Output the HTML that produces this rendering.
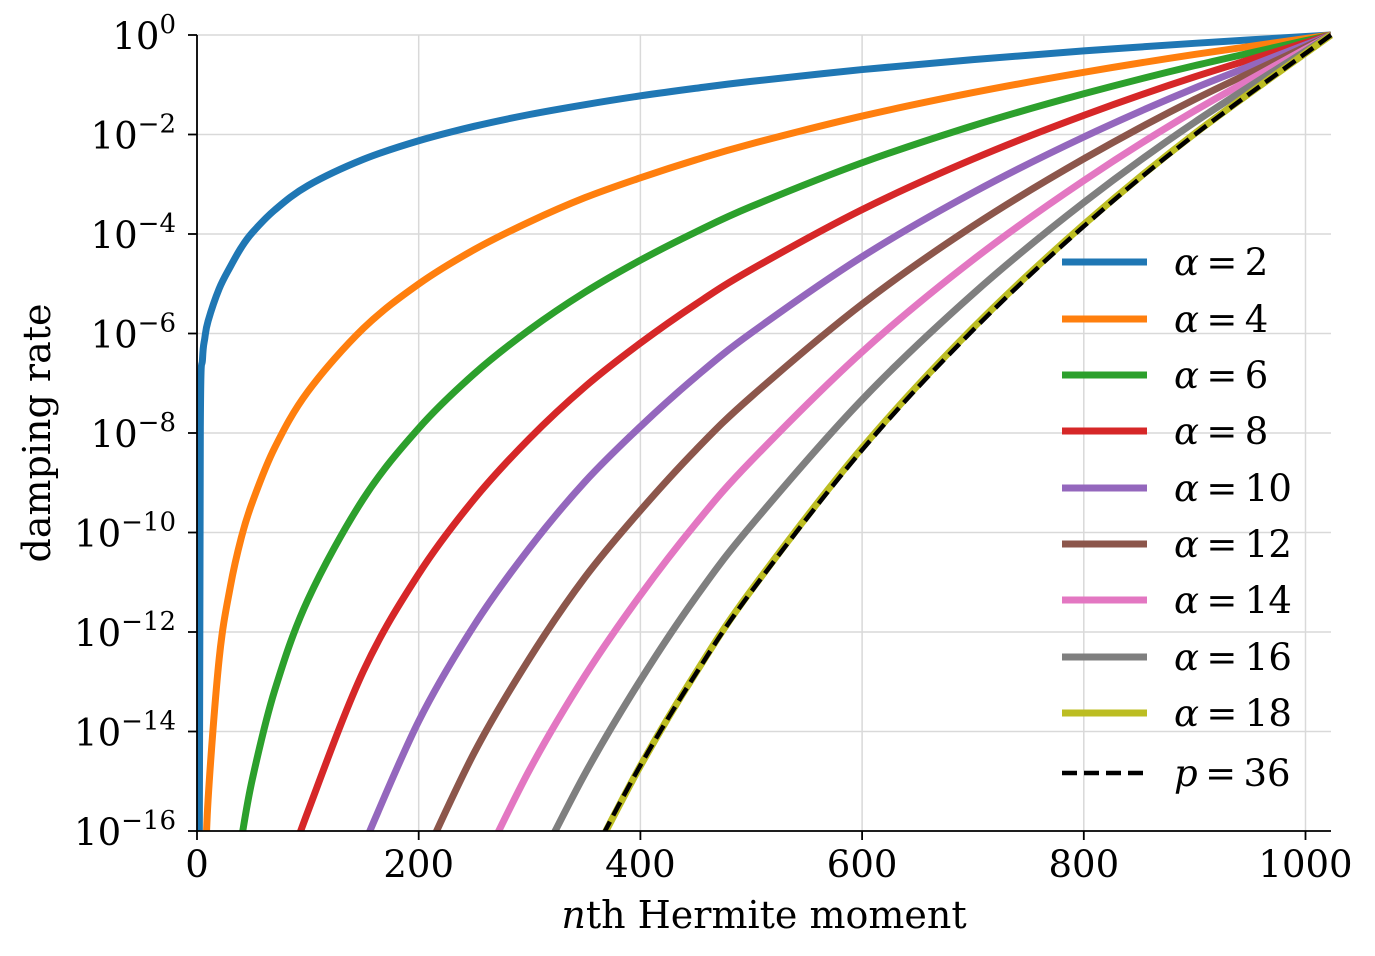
<!DOCTYPE html>
<html><head><meta charset="utf-8"><style>
html,body{margin:0;padding:0;background:#fff;}
svg{display:block;font-family:"DejaVu Serif","Liberation Serif",serif;}
</style></head><body>
<svg id="chart" width="1375" height="956" viewBox="0 0 1375 956">
<defs><clipPath id="plotclip"><rect x="197" y="31" width="1138" height="800"/></clipPath></defs>
<g id="grid"></g>
<g id="series" clip-path="url(#plotclip)"></g>
<g id="axes"></g>
<g id="legend"></g>
<text x="764" y="928" font-size="38" text-anchor="middle"><tspan font-style="italic">n</tspan>th Hermite moment</text>
<text transform="translate(50,433) rotate(-90)" font-size="38" text-anchor="middle">damping rate</text>
</svg>
<script>
const nGrid = [1023,900,800,700,600,500,450,400,350,300,250,200,150,100,70,50,40,30,20,10,7,5,3,2];
const seriesLabels = ["2","4","6","8","10","12","14","16","18"];
const seriesColors = ["#1f77b4","#ff7f0e","#2ca02c","#d62728","#9467bd","#8c564b","#e377c2","#7f7f7f","#bcbd22"];
// log10(damping rate) at nGrid (null = below range)
const a2  = [0,-0.167,-0.32,-0.494,-0.695,-0.933,-1.07,-1.223,-1.40,-1.598,-1.836,-2.126,-2.501,-3.029,-3.52,-3.97,-4.27,-4.66,-5.1,-5.75,-6.1,-6.5,-7.9,-17];
const a4  = [0,-0.391,-0.75,-1.158,-1.63,-2.188,-2.51,-2.871,-3.27,-3.755,-4.316,-5.005,-5.898,-7.167,-8.3,-9.387,-10.1,-11.095,-12.537,-15.37,-17.25,null,null,null];
const a6  = [0,-0.616,-1.182,-1.824,-2.568,-3.448,-3.96,-4.527,-5.17,-5.924,-6.812,-7.905,-9.325,-11.353,-13.18,-14.95,-16.17,null,null,null,null,null,null,null];
const a8  = [0,-0.841,-1.615,-2.494,-3.51,-4.715,-5.41,-6.193,-7.07,-8.109,-9.33,-10.833,-12.79,-15.61,-17.5,null,null,null,null,null,null,null,null,null];
const a10 = [0,-1.068,-2.05,-3.167,-4.457,-5.989,-6.87,-7.87,-8.98,-10.311,-11.869,-13.792,-16.306,null,null,null,null,null,null,null,null,null,null,null];
const a12 = [0,-1.295,-2.489,-3.841,-5.41,-7.27,-8.34,-9.557,-10.9,-12.53,-14.43,-16.78,null,null,null,null,null,null,null,null,null,null,null,null];
const a14 = [0,-1.523,-2.927,-4.52,-6.37,-8.56,-9.82,-11.26,-12.88,-14.77,-17.02,null,null,null,null,null,null,null,null,null,null,null,null,null];
const a16 = [0,-1.753,-3.367,-5.205,-7.33,-9.855,-11.3,-12.97,-14.85,-17.02,null,null,null,null,null,null,null,null,null,null,null,null,null,null];
const a18 = [0,-1.983,-3.81,-5.89,-8.3,-11.16,-12.82,-14.69,-16.82,null,null,null,null,null,null,null,null,null,null,null,null,null,null,null];
const p36 = [0,-2.005,-3.845,-5.933,-8.341,-11.19,-12.84,-14.68,-16.77,null,null,null,null,null,null,null,null,null,null,null,null,null,null,null];
const xTicks = [0,200,400,600,800,1000];
const yTickExps = [0,-2,-4,-6,-8,-10,-12,-14,-16];

const NS="http://www.w3.org/2000/svg";
const X0=197, XPX=1.1085, Y0=35, YPX=49.75;
const xs = n => X0 + n*XPX;
const ys = l => Y0 - l*YPX;
function mk(tag, attrs, parent){const e=document.createElementNS(NS,tag);for(const k in attrs)e.setAttribute(k,attrs[k]);parent.appendChild(e);return e;}

const grid=document.getElementById('grid'), axes=document.getElementById('axes');
xTicks.forEach(t=>{
  const g=mk('line',{x1:xs(t),x2:xs(t),y1:35,y2:831,stroke:'#d9d9d9','stroke-width':1.5},grid);
  
  
  const tk=mk('line',{x1:xs(t),x2:xs(t),y1:831,y2:840,stroke:'#000','stroke-width':1.8},axes);
  
  
  const lb=mk('text',{x:xs(t),y:877,'font-size':37,'text-anchor':'middle'},axes);
  lb.textContent=t;
  
  
});
yTickExps.forEach(e=>{
  const y=ys(e);
  const g=mk('line',{x1:197,x2:1331,y1:y,y2:y,stroke:'#d9d9d9','stroke-width':1.5},grid);
  
  
  const tk=mk('line',{x1:188,x2:197,y1:y,y2:y,stroke:'#000','stroke-width':1.8},axes);
  
  
  const lb=mk('text',{x:176,y:y+14,'font-size':37,'text-anchor':'end'},axes);
  
  
  const b=mk('tspan',{},lb); b.textContent='10';
  const s=mk('tspan',{'font-size':26,dy:-16}, lb); s.textContent=(e===0?'0':'\u2212'+(-e));
});
const sp1=mk('line',{x1:197,x2:197,y1:35,y2:832,stroke:'#000','stroke-width':1.8},axes);


const sp2=mk('line',{x1:196,x2:1331,y1:831,y2:831,stroke:'#000','stroke-width':1.8},axes);



function pathFor(vals){
  const pts=[];
  for(let i=0;i<nGrid.length;i++){ if(vals[i]===null) break; pts.push([xs(nGrid[i]),ys(vals[i])]); }
  let d='M'+pts[0][0]+','+pts[0][1];
  for(let i=0;i<pts.length-1;i++){
    const p0=pts[Math.max(0,i-1)],p1=pts[i],p2=pts[i+1],p3=pts[Math.min(pts.length-1,i+2)];
    let c1x=p1[0]+(p2[0]-p0[0])/6, c1y=p1[1]+(p2[1]-p0[1])/6;
    let c2x=p2[0]-(p3[0]-p1[0])/6, c2y=p2[1]-(p3[1]-p1[1])/6;
    if(i===pts.length-2 && vals===a2){c1x=p1[0];c1y=p1[1];c2x=p2[0];c2y=p2[1];}
    d+=' C'+c1x+','+c1y+' '+c2x+','+c2y+' '+p2[0]+','+p2[1];
  }
  return d;
}
const seriesVals=[a2,a4,a6,a8,a10,a12,a14,a16,a18];
const sg=document.getElementById('series');
seriesVals.forEach((v,i)=>{
  const p=mk('path',{d:pathFor(v),fill:'none',stroke:seriesColors[i],'stroke-width':7,'stroke-linejoin':'round'},sg);
  
  
});
const dp=mk('path',{d:pathFor(p36),fill:'none',stroke:'#000','stroke-width':4.5,'stroke-dasharray':'15,7'},sg);



const lg=document.getElementById('legend');
const rowY=[262,319,375,431,488,544,600,657,713,773];
for(let i=0;i<10;i++){
  const y=rowY[i];
  const isP=(i===9);
  const ln=mk('line',{x1:1062,x2:1147,y1:y,y2:y,stroke:isP?'#000':seriesColors[i],'stroke-width':isP?4.5:7,'stroke-dasharray':isP?'15,7':'none'},lg);
  
  
  const t=mk('text',{x:1174,y:y+13,'font-size':37},lg);
  
  
  const a=mk('tspan',{'font-style':'italic'},t); a.textContent=isP?'p':'\u03b1';
  const r=mk('tspan',{},t); r.textContent='\u2009=\u2009'+(isP?'36':seriesLabels[i]);
}
</script>
</body></html>
